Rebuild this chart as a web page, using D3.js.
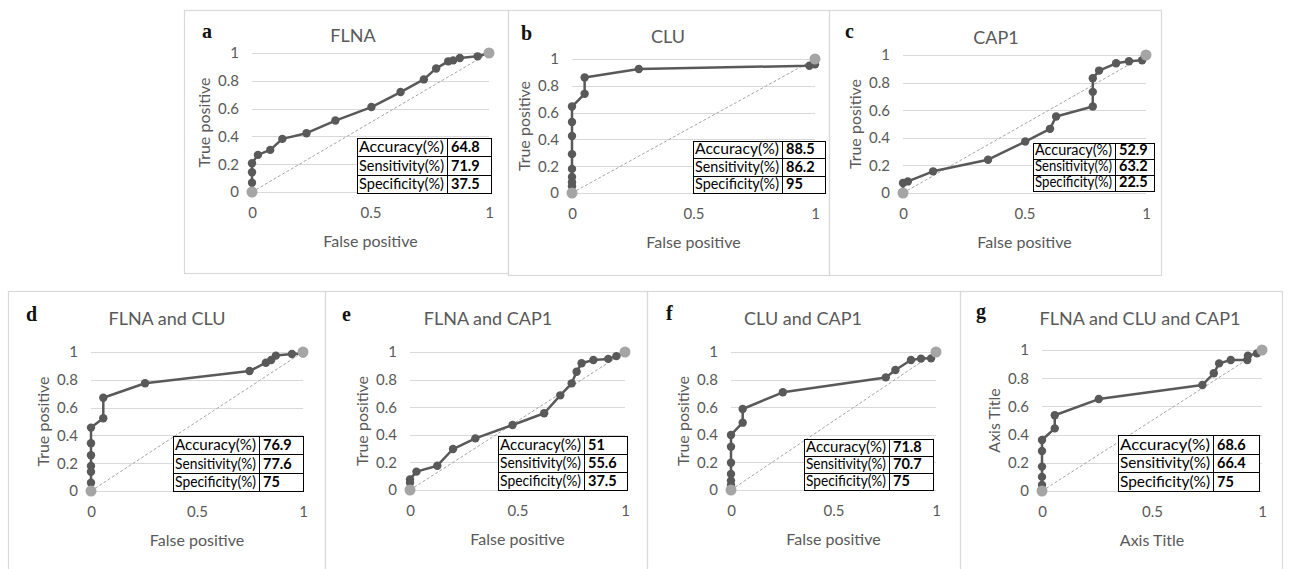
<!DOCTYPE html>
<html>
<head>
<meta charset="utf-8">
<script src="https://cdn.jsdelivr.net/npm/d3@7"></script>
<style>
    body { margin: 0; background: #fff; }
    svg { display: block; font-family: Lato, "Open Sans", sans-serif; }
</style>
</head>
<body>
<svg width="1292" height="569"></svg>
<script>
// ---- data ----
const panelLetters = ['a', 'b', 'c', 'd', 'e', 'f', 'g'];
const panelTitles = ['FLNA', 'CLU', 'CAP1', 'FLNA and CLU', 'FLNA and CAP1', 'CLU and CAP1', 'FLNA and CLU and CAP1'];
const xTitles = ['False positive', 'False positive', 'False positive', 'False positive', 'False positive', 'False positive', 'Axis Title'];
const yTitles = ['True positive', 'True positive', 'True positive', 'True positive', 'True positive', 'True positive', 'Axis Title'];
const xTicks = [0, 0.5, 1];
const yTicks = [0, 0.2, 0.4, 0.6, 0.8, 1];
const statLabels = ['Accuracy(%)', 'Sensitivity(%)', 'Specificity(%)'];
const statValues = [
    ['64.8', '71.9', '37.5'],
    ['88.5', '86.2', '95'],
    ['52.9', '63.2', '22.5'],
    ['76.9', '77.6', '75'],
    ['51', '55.6', '37.5'],
    ['71.8', '70.7', '75'],
    ['68.6', '66.4', '75']
];

const flnaFpr = [0, 0, 0, 0, 0.025, 0.077, 0.128, 0.230, 0.352, 0.504, 0.627, 0.725, 0.777, 0.828, 0.849, 0.877, 0.952, 1];
const flnaTpr = [0, 0.067, 0.142, 0.207, 0.267, 0.303, 0.382, 0.423, 0.514, 0.611, 0.719, 0.810, 0.889, 0.940, 0.947, 0.964, 0.976, 1];
const cluFpr = [0, 0, 0, 0, 0, 0, 0, 0, 0, 0.052, 0.052, 0.275, 0.977, 1];
const cluTpr = [0, 0.05, 0.08, 0.12, 0.18, 0.29, 0.425, 0.53, 0.645, 0.74, 0.862, 0.925, 0.95, 0.96];
const capFpr = [0, 0, 0.02, 0.124, 0.350, 0.503, 0.605, 0.630, 0.781, 0.781, 0.781, 0.807, 0.877, 0.93, 0.984];
const capTpr = [0, 0.072, 0.084, 0.157, 0.241, 0.373, 0.465, 0.554, 0.627, 0.733, 0.831, 0.887, 0.94, 0.955, 0.962];
const flnaCluFpr = [0, 0, 0, 0, 0, 0, 0, 0.058, 0.058, 0.255, 0.748, 0.825, 0.850, 0.872, 0.948, 1];
const flnaCluTpr = [0, 0.06, 0.139, 0.18, 0.257, 0.343, 0.456, 0.523, 0.671, 0.775, 0.863, 0.923, 0.942, 0.974, 0.986, 0.99];
const flnaCapFpr = [0, 0, 0, 0.03, 0.127, 0.2, 0.304, 0.477, 0.624, 0.699, 0.752, 0.775, 0.798, 0.853, 0.922, 0.96, 1];
const flnaCapTpr = [0, 0.053, 0.077, 0.133, 0.176, 0.297, 0.374, 0.471, 0.556, 0.686, 0.773, 0.857, 0.918, 0.942, 0.95, 0.97, 1];
const cluCapFpr = [0, 0, 0, 0, 0, 0, 0, 0.057, 0.057, 0.253, 0.755, 0.802, 0.878, 0.927, 0.976];
const cluCapTpr = [0, 0.036, 0.068, 0.116, 0.198, 0.314, 0.399, 0.488, 0.587, 0.708, 0.816, 0.870, 0.942, 0.952, 0.954];
const allFpr = [0, 0, 0, 0, 0, 0, 0.058, 0.058, 0.258, 0.729, 0.781, 0.805, 0.858, 0.933, 0.936, 0.977, 1];
const allTpr = [0, 0.043, 0.10, 0.173, 0.284, 0.362, 0.444, 0.537, 0.652, 0.752, 0.835, 0.905, 0.929, 0.929, 0.96, 0.976, 1];
const chanceFpr = [0, 1];
const chanceTpr = [0, 1];

const rocFpr = [flnaFpr, cluFpr, capFpr, flnaCluFpr, flnaCapFpr, cluCapFpr, allFpr];
const rocTpr = [flnaTpr, cluTpr, capTpr, flnaCluTpr, flnaCapTpr, cluCapTpr, allTpr];

// ---- layout (pixels) ----
// box: [x0, y0, x1, y1]; plot: [x0, x1, top, bottom]; table: [x0, split, x1, y0, y1]
const layout = [
    {box: [184, 10, 508, 273], plot: [252, 489, 53, 192], title: [353, 42], letter: [202, 38], table: [357, 447, 491, 138, 193]},
    {box: [508, 10, 829, 275], plot: [572, 815, 59, 193], title: [668, 43], letter: [521, 40], table: [693, 782, 825, 141, 193]},
    {box: [829, 10, 1161, 275], plot: [903, 1146, 55, 193], title: [996, 44], letter: [845, 38], table: [1033, 1115, 1154, 143, 191]},
    {box: [8, 291, 325, 575], plot: [91, 303, 352, 491], title: [167, 325], letter: [26, 321], table: [173, 259, 303, 436, 491]},
    {box: [325, 291, 647, 575], plot: [410, 625, 352, 490], title: [488, 325], letter: [342, 321], table: [498, 584, 627, 436, 490]},
    {box: [647, 291, 960, 575], plot: [731, 936, 352, 490], title: [803, 325], letter: [666, 320], table: [804, 889, 933, 439, 490]},
    {box: [960, 291, 1282, 575], plot: [1042, 1262, 350, 491], title: [1140, 325], letter: [976, 318], table: [1118, 1213, 1259, 435, 491]}
];

const GRID = '#d9d9d9', TEXT = '#595959', LINE = '#595959', CHANCE = '#a5a5a5';

const svg = d3.select('svg');

layout.forEach(function (L, i) {
    const g = svg.append('g');

    // frame of the chart
    g.append('rect')
        .attr('x', L.box[0] + 0.5)
        .attr('y', L.box[1] + 0.5)
        .attr('width', L.box[2] - L.box[0])
        .attr('height', L.box[3] - L.box[1])
        .attr('fill', 'none')
        .attr('stroke', GRID)
        .attr('stroke-width', 1.2);

    const x = d3.scaleLinear().domain([0, 1]).range([L.plot[0], L.plot[1]]);
    const y = d3.scaleLinear().domain([0, 1]).range([L.plot[3], L.plot[2]]);

    // gridlines
    yTicks.forEach(function (t) {
        g.append('line')
            .attr('x1', L.plot[0])
            .attr('x2', L.plot[1])
            .attr('y1', Math.round(y(t)) + 0.5)
            .attr('y2', Math.round(y(t)) + 0.5)
            .attr('stroke', GRID);
    });

    // axes
    const yAxis = g.append('g')
        .attr('transform', `translate(${L.plot[0]},0)`)
        .call(d3.axisLeft(y).tickValues(yTicks).tickSize(0).tickPadding(13).tickFormat(d3.format('~g')));
    const xAxis = g.append('g')
        .attr('transform', `translate(0,${L.plot[3]})`)
        .call(d3.axisBottom(x).tickValues(xTicks).tickSize(0).tickPadding(15).tickFormat(d3.format('~g')));
    [yAxis, xAxis].forEach(function (a) {
        a.select('.domain').remove();
        a.selectAll('text')
            .attr('fill', TEXT)
            .style('font-family', 'Lato, sans-serif')
            .style('font-size', '15px');
    });

    // titles
    g.append('text')
        .attr('x', L.title[0])
        .attr('y', L.title[1])
        .attr('text-anchor', 'middle')
        .attr('fill', TEXT)
        .style('font-size', '18px')
        .text(panelTitles[i]);

    g.append('text')
        .attr('x', L.letter[0])
        .attr('y', L.letter[1])
        .style('font-family', '"Liberation Serif", "DejaVu Serif", serif')
        .style('font-weight', 'bold')
        .style('font-size', '20px')
        .attr('fill', '#111')
        .text(panelLetters[i]);

    g.append('text')
        .attr('x', (L.plot[0] + L.plot[1]) / 2)
        .attr('y', L.plot[3] + 55)
        .attr('text-anchor', 'middle')
        .attr('fill', TEXT)
        .style('font-size', '16px')
        .text(xTitles[i]);

    const yc = (L.plot[2] + L.plot[3]) / 2, xc = L.plot[0] - 48;
    g.append('text')
        .attr('transform', `translate(${xc},${yc}) rotate(-90)`)
        .attr('text-anchor', 'middle')
        .attr('dy', '0.35em')
        .attr('fill', TEXT)
        .style('font-size', '16px')
        .text(yTitles[i]);

    // chance diagonal
    const chance = d3.zip(chanceFpr, chanceTpr);
    g.append('path')
        .attr('d', d3.line().x(d => x(d[0])).y(d => y(d[1]))(chance))
        .attr('fill', 'none')
        .attr('stroke', CHANCE)
        .attr('stroke-width', 1)
        .attr('stroke-dasharray', '3,2');

    // ROC curve
    const roc = d3.zip(rocFpr[i], rocTpr[i]);
    g.append('path')
        .attr('d', d3.line().x(d => x(d[0])).y(d => y(d[1]))(roc))
        .attr('fill', 'none')
        .attr('stroke', LINE)
        .attr('stroke-width', 2.5)
        .attr('stroke-linejoin', 'round');

    roc.forEach(function (d) {
        g.append('circle')
            .attr('cx', x(d[0]))
            .attr('cy', y(d[1]))
            .attr('r', 4.2)
            .attr('fill', LINE);
    });

    chance.forEach(function (d) {
        g.append('circle')
            .attr('cx', x(d[0]))
            .attr('cy', y(d[1]))
            .attr('r', 5.5)
            .attr('fill', CHANCE);
    });

    // stats table
    const T = L.table;
    const rowH = (T[4] - T[3]) / statLabels.length;
    g.append('rect')
        .attr('x', T[0] + 0.5)
        .attr('y', T[3] + 0.5)
        .attr('width', T[2] - T[0])
        .attr('height', T[4] - T[3])
        .attr('fill', '#fff')
        .attr('stroke', '#000');
    g.append('line')
        .attr('x1', T[1] + 0.5).attr('x2', T[1] + 0.5)
        .attr('y1', T[3]).attr('y2', T[4])
        .attr('stroke', '#000');
    statLabels.forEach(function (lab, r) {
        if (r > 0) {
            g.append('line')
                .attr('x1', T[0]).attr('x2', T[2])
                .attr('y1', Math.round(T[3] + r * rowH) + 0.5)
                .attr('y2', Math.round(T[3] + r * rowH) + 0.5)
                .attr('stroke', '#000');
        }
        const by = T[3] + (r + 1) * rowH - 4;
        g.append('text')
            .attr('x', T[0] + 2)
            .attr('y', by)
            .attr('textLength', T[1] - T[0] - 5)
            .attr('lengthAdjust', 'spacingAndGlyphs')
            .style('font-size', '14.5px')
            .attr('fill', '#000')
            .text(lab);
        g.append('text')
            .attr('x', T[1] + 4)
            .attr('y', by)
            .style('font-size', '14.5px')
            .style('font-weight', 'bold')
            .attr('fill', '#000')
            .text(statValues[i][r]);
    });
});
</script>
</body>
</html>
